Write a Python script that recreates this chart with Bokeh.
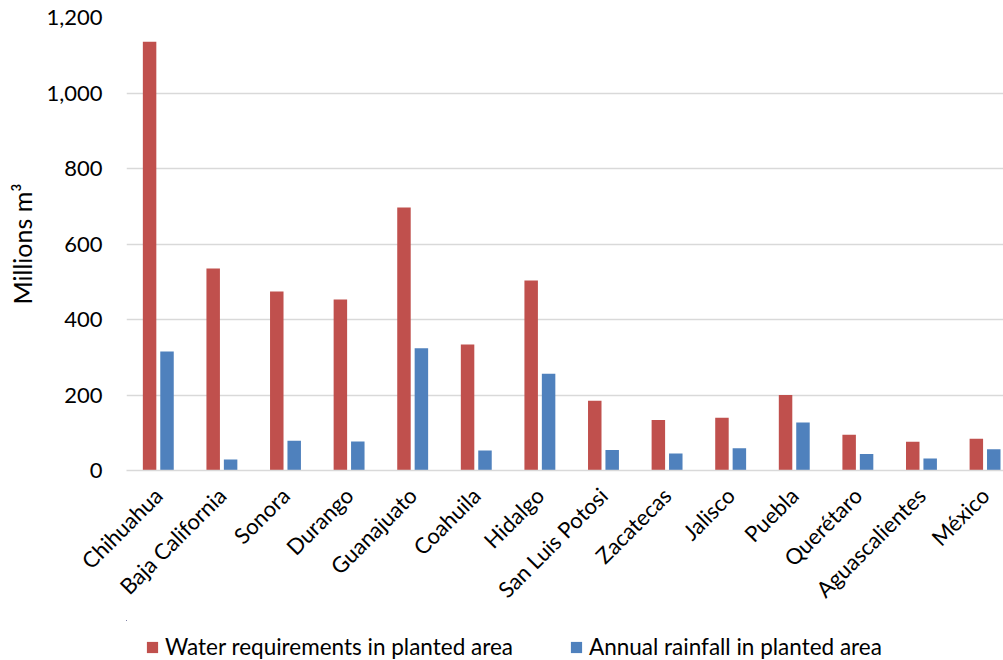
from math import pi
from bokeh.plotting import figure
from bokeh.layouts import column
from bokeh.models import ColumnDataSource, Range1d, FixedTicker, Legend, LegendItem, NumeralTickFormatter
from bokeh.embed import file_html
from bokeh.resources import INLINE

states = ["Chihuahua", "Baja California", "Sonora", "Durango", "Guanajuato", "Coahuila",
          "Hidalgo", "San Luis Potosi", "Zacatecas", "Jalisco", "Puebla", "Querétaro",
          "Aguascalientes", "México"]
water = [1136, 535, 474, 453, 697, 334, 503, 185, 134, 140, 200, 95, 76, 84]
rain = [315, 29, 79, 77, 324, 53, 256, 54, 45, 59, 127, 44, 32, 56]
y_ticks = [0, 200, 400, 600, 800, 1000, 1200]
series_names = ["Water requirements in planted area", "Annual rainfall in planted area"]

FONT = "Lato"
RED = "#C0504D"
BLUE = "#4F81BD"
W = 1003

idx = list(range(len(states)))
src = ColumnDataSource(dict(
    x=idx,
    xr=[i - 0.137 for i in idx],
    xb=[i + 0.137 for i in idx],
    water=water,
    rain=rain,
))

p = figure(width=W, height=620, output_backend="svg", toolbar_location=None,
           x_range=Range1d(-0.5, 13.29), y_range=Range1d(0, 1200),
           min_border_left=126, min_border_right=0, min_border_top=17, min_border_bottom=150)
p.outline_line_color = None

p.vbar(x="xr", top="water", width=0.212, source=src, fill_color=RED, line_color=None)
p.vbar(x="xb", top="rain", width=0.212, source=src, fill_color=BLUE, line_color=None)

p.xgrid.grid_line_color = None
p.ygrid.grid_line_color = "#d9d9d9"
p.ygrid.grid_line_width = 1.5

ya = p.yaxis[0]
ya.ticker = FixedTicker(ticks=y_ticks)
ya.formatter = NumeralTickFormatter(format="0,0")
ya.axis_line_color = None
ya.major_tick_line_color = None
ya.minor_tick_line_color = None
ya.major_tick_out = 0
ya.major_tick_in = 0
ya.major_label_standoff = 24
ya.major_label_text_font = FONT
ya.major_label_text_font_size = "22px"
ya.major_label_text_color = "#000000"
ya.axis_label = "Millions m³"
ya.axis_label_text_font = FONT
ya.axis_label_text_font_size = "25px"
ya.axis_label_text_font_style = "normal"
ya.axis_label_text_color = "#000000"
ya.axis_label_standoff = 6

xa = p.xaxis[0]
xa.ticker = FixedTicker(ticks=idx)
xa.major_label_overrides = {i: s for i, s in zip(idx, states)}
xa.axis_line_color = "#d9d9d9"
xa.axis_line_width = 1.5
xa.major_tick_line_color = None
xa.minor_tick_line_color = None
xa.major_tick_out = 0
xa.major_tick_in = 0
xa.major_label_orientation = pi / 4
xa.major_label_standoff = 21
xa.major_label_text_font = FONT
xa.major_label_text_font_size = "22px"
xa.major_label_text_color = "#000000"

# legend strip below the chart (its bars sit far outside its visible range)
lg = figure(width=W, height=40, output_backend="svg", toolbar_location=None,
            x_range=Range1d(100, 101), y_range=Range1d(-2000, -1000),
            x_axis_location=None, y_axis_location=None,
            min_border=0, min_border_left=0, min_border_right=0, min_border_top=0, min_border_bottom=0)
lg.outline_line_color = None
lg.xgrid.visible = False
lg.ygrid.visible = False
k1 = lg.vbar(x="xr", top="water", width=0.212, source=src, fill_color=RED, line_color=None)
k2 = lg.vbar(x="xb", top="rain", width=0.212, source=src, fill_color=BLUE, line_color=None)

legend = Legend(items=[LegendItem(label=series_names[0], renderers=[k1]),
                       LegendItem(label=series_names[1], renderers=[k2])],
                orientation="horizontal", location=(19, 0),
                glyph_width=14, glyph_height=14, label_standoff=6, spacing=56,
                padding=0, margin=0, label_height=20,
                label_text_font=FONT, label_text_font_size="22.5px", label_text_color="#000000",
                border_line_color=None, background_fill_alpha=0)
lg.add_layout(legend, "center")

open("out.html", "w").write(file_html(column(p, lg, spacing=0), INLINE))
